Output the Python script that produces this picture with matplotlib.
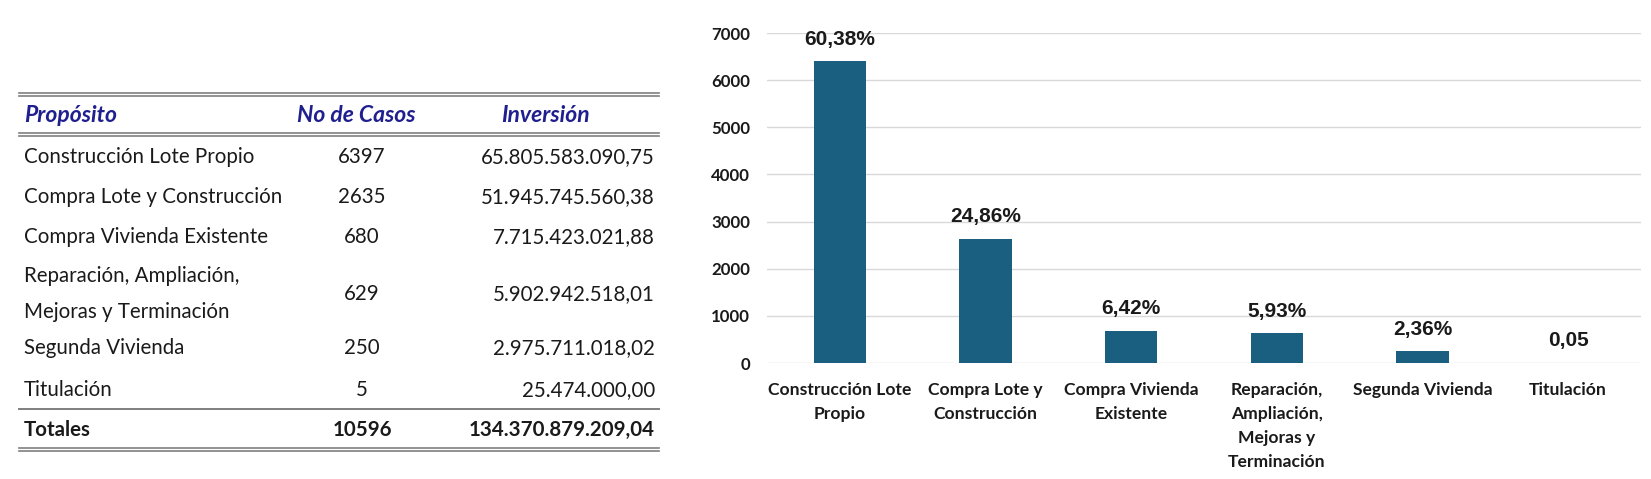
import matplotlib.pyplot as plt
from matplotlib.lines import Line2D

# data
propositos = ['Construcción Lote Propio', 'Compra Lote y Construcción', 'Compra Vivienda Existente',
              'Reparación, Ampliación,\nMejoras y Terminación', 'Segunda Vivienda', 'Titulación']
casos = [6397, 2635, 680, 629, 250, 5]
inversion = ['65.805.583.090,75', '51.945.745.560,38', '7.715.423.021,88',
             '5.902.942.518,01', '2.975.711.018,02', '25.474.000,00']
total_casos = 10596
total_inversion = '134.370.879.209,04'
etiquetas_x = ['Construcción Lote\nPropio', 'Compra Lote y\nConstrucción', 'Compra Vivienda\nExistente',
               'Reparación,\nAmpliación,\nMejoras y\nTerminación', 'Segunda Vivienda', 'Titulación']
porcentajes = ['60,38%', '24,86%', '6,42%', '5,93%', '2,36%', '0,05']

W, H = 1651, 479
fig = plt.figure(figsize=(W / 100, H / 100), dpi=100)

# ---- table (pixel coords) ----
tab = fig.add_axes([0, 0, 1, 1])
tab.set_xlim(0, W)
tab.set_ylim(H, 0)
tab.axis('off')

font_t = 'Lato'
navy = '#1f1f8f'
grey = '#7f7f7f'

def hline(y, lw=1.2, double=False):
    tab.add_line(Line2D([19, 659], [y, y], color=grey, lw=lw))
    if double:
        tab.add_line(Line2D([19, 659], [y + 2.5, y + 2.5], color=grey, lw=lw))

hline(93, double=True)
hline(133, double=True)
hline(409, lw=1.4)
hline(448, double=True)

hdr = dict(fontsize=16.5, fontweight='bold', style='italic', color=navy, family=font_t, va='center')
tab.text(24, 115, 'Propósito', ha='left', **hdr)
tab.text(356, 115, 'No de Casos', ha='center', **hdr)
tab.text(501, 115, 'Inversión', ha='left', **hdr)

row_y = [157, 197, 237, 294, 348, 390]
body = dict(fontsize=14.8, color='#1a1a1a', family=font_t, va='center')
for y, p, c, inv in zip(row_y, propositos, casos, inversion):
    tab.text(24, y, p, ha='left', linespacing=2.0, **body)
    tab.text(362, y, str(c), ha='center', **body)
    tab.text(655, y, inv, ha='right', **body)

tot = dict(fontsize=14.8, fontweight='bold', color='#1a1a1a', family=font_t, va='center')
tab.text(24, 430, 'Totales', ha='left', **tot)
tab.text(362, 430, str(total_casos), ha='center', **tot)
tab.text(655, 430, total_inversion, ha='right', **tot)

# ---- bar chart ----
ax = fig.add_axes([767 / W, 1 - 363 / H, 874 / W, 330 / H])
x = list(range(len(casos)))
bars = ax.bar(x, casos, width=0.36, color='#1a5f80', zorder=3)
ax.set_xlim(-0.5, len(casos) - 0.5)
ax.set_ylim(0, 7000)
ax.set_yticks(range(0, 7001, 1000))
ax.yaxis.grid(True, color='#d9d9d9', lw=1, zorder=0)
for s in ax.spines.values():
    s.set_visible(False)
ax.tick_params(axis='both', length=0)
ax.tick_params(axis='y', pad=12)
ax.tick_params(axis='x', pad=14)
ax.set_xticks(x)
ax.set_xticklabels(etiquetas_x, fontsize=12.6, fontweight='bold', family=font_t,
                   color='#1a1a1a', linespacing=1.6, va='top')
for lab in ax.get_yticklabels():
    lab.set_fontsize(12.2)
    lab.set_fontweight('bold')
    lab.set_family(font_t)
    lab.set_color('#1a1a1a')

for xi, v, t in zip(x, casos, porcentajes):
    ax.annotate(t, (xi, v), xytext=(0, 9), textcoords='offset points', ha='center', va='bottom',
                fontsize=15, fontweight='bold', family='Liberation Sans', color='#1a1a1a')

fig.savefig('out.png', dpi=100)
